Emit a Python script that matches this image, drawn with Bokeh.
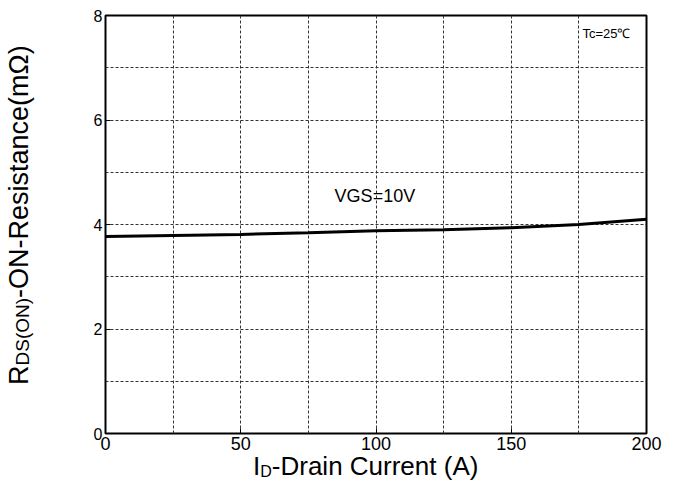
from bokeh.plotting import figure
from bokeh.models import Label, FixedTicker, Range1d, Div
from bokeh.layouts import row, column
from bokeh.embed import file_html
from bokeh.resources import INLINE

# ---- data ----
drain_current = [0, 25, 50, 75, 100, 125, 150, 175, 200]          # ID (A)
rds_on = [3.77, 3.79, 3.81, 3.84, 3.88, 3.90, 3.94, 4.00, 4.10]   # RDS(ON) (mOhm)
x_tick_values = [0, 50, 100, 150, 200]
y_tick_values = [0, 2, 4, 6, 8]
x_grid_values = [25, 50, 75, 100, 125, 150, 175]
y_grid_values = [1, 2, 3, 4, 5, 6, 7]

FONT = "Liberation Sans"

p = figure(width=629, height=455, x_range=Range1d(0, 200), y_range=Range1d(0, 8),
           output_backend="svg", toolbar_location=None,
           min_border_left=60, min_border_right=28, min_border_top=15, min_border_bottom=22)
p.background_fill_color = "white"
p.border_fill_color = "white"
p.outline_line_color = "black"
p.outline_line_width = 2

p.xaxis.ticker = FixedTicker(ticks=x_tick_values)
p.yaxis.ticker = FixedTicker(ticks=y_tick_values)
p.xgrid.ticker = FixedTicker(ticks=x_grid_values)
p.ygrid.ticker = FixedTicker(ticks=y_grid_values)
for g in (p.xgrid, p.ygrid):
    g.grid_line_color = "#333333"
    g.grid_line_dash = "3 2"
    g.grid_line_width = 1

for ax in (p.xaxis, p.yaxis):
    ax.axis_line_color = None
    ax.major_tick_in = 5
    ax.major_tick_out = 0
    ax.major_tick_line_color = "black"
    ax.minor_tick_line_color = None
    ax.major_label_text_font = FONT
    ax.major_label_text_font_style = "normal"
    ax.major_label_text_color = "black"
p.xaxis.major_label_text_font_size = "18px"
p.yaxis.major_label_text_font_size = "16px"
p.xaxis.major_label_standoff = 3
p.yaxis.major_label_standoff = 3

p.line(drain_current, rds_on, line_color="black", line_width=3)

p.add_layout(Label(x=84.7, y=4.55, text="VGS=10V", text_font=FONT, text_font_size="18px",
                   text_baseline="middle", text_align="left", text_color="black"))
p.add_layout(Label(x=176.3, y=7.66, text="Tc=25℃", text_font=FONT, text_font_size="13px",
                   text_baseline="middle", text_align="left", text_color="black"))

# axis titles with subscripts as HTML
y_sub = "font-size:19px;position:relative;top:1px;"
x_sub = "font-size:16px;position:relative;top:2px;"
y_html = ('<span style="display:inline-block;white-space:nowrap;transform-origin:0 0;'
          'transform:translate(4px,385px) rotate(-90deg);font-family:\'Liberation Sans\';'
          'font-size:27px;line-height:31px;color:black;">'
          f'R<span style="{y_sub}">DS(ON)</span>-ON-Resistance(mΩ)</span>')
x_html = ('<span style="white-space:nowrap;font-family:\'Liberation Sans\';font-size:26px;'
          'line-height:22px;color:black;">'
          f'I<span style="{x_sub}">D</span>-Drain Current (A)</span>')

ydiv = Div(text=y_html, width=45, height=455, styles={"margin": "0", "padding": "0"})
xdiv = Div(text=x_html, width=674, height=29,
           styles={"margin": "0", "padding": "0 0 0 253px", "line-height": "22px"})

layout = column(row(ydiv, p), xdiv)

open("out.html", "w").write(file_html(layout, INLINE))
